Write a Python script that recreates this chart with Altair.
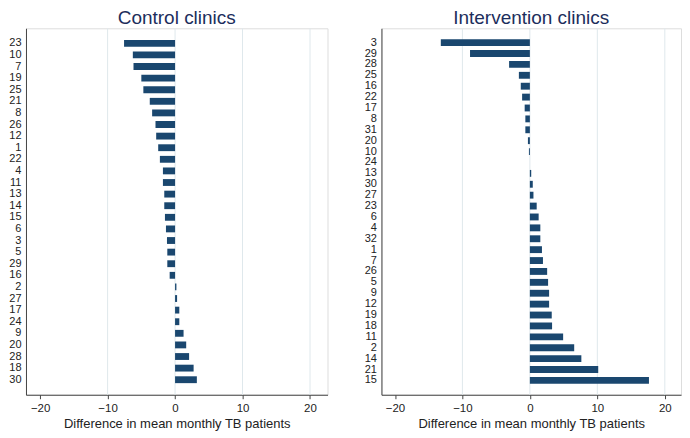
import altair as alt
import pandas as pd

# Control clinics (top to bottom)
control_clinics = ["23", "10", "7", "19", "25", "21", "8", "26", "12", "1",
                   "22", "4", "11", "13", "14", "15", "6", "3", "5", "29",
                   "16", "2", "27", "17", "24", "9", "20", "28", "18", "30"]
control_diff = [-7.56, -6.26, -6.16, -5.0, -4.7, -3.75, -3.4, -2.9, -2.8, -2.5,
                -2.25, -1.8, -1.8, -1.6, -1.6, -1.5, -1.35, -1.2, -1.15, -1.15,
                -0.8, 0.2, 0.3, 0.63, 0.63, 1.26, 1.65, 2.08, 2.75, 3.23]

# Intervention clinics (top to bottom)
intervention_clinics = ["3", "29", "28", "25", "16", "22", "17", "8", "31", "20",
                        "10", "24", "13", "30", "27", "23", "6", "4", "32", "1",
                        "7", "26", "5", "9", "12", "19", "18", "11", "2", "14",
                        "21", "15"]
intervention_diff = [-13.2, -8.87, -3.08, -1.63, -1.35, -1.15, -0.77, -0.67, -0.67, -0.29,
                     -0.14, 0.0, 0.2, 0.43, 0.53, 1.01, 1.3, 1.55, 1.55, 1.79,
                     1.94, 2.56, 2.7, 2.85, 2.85, 3.24, 3.29, 4.93, 6.57, 7.63,
                     10.13, 17.65]

x_ticks = [-20, -10, 0, 10, 20]
grid_values = [-10, 0, 10, 20]
x_title = "Difference in mean monthly TB patients"

FONT = "Liberation Sans"
BAR = "#1a476f"


def panel(clinics, values, title, domain, width, pad_inner, pad_outer):
    df = pd.DataFrame({"clinic": clinics, "diff": values})
    xscale = alt.Scale(domain=domain, nice=False, zero=False)
    xaxis = alt.Axis(
        values=x_ticks, title=x_title, format="d",
        labelFontSize=11.5, titleFontSize=13, titleFontWeight="normal",
        labelFont=FONT, titleFont=FONT, labelColor="#222", titleColor="#222",
        tickSize=4, tickColor="#444", domainColor="#444", labelPadding=4,
        titlePadding=3, grid=False,
    )
    grid = alt.Chart(pd.DataFrame({"g": grid_values})).mark_rule(
        color="#dfe8ec", strokeWidth=1
    ).encode(x=alt.X("g:Q", scale=xscale, axis=xaxis))
    bars = alt.Chart(df).mark_bar(color=BAR).encode(
        x=alt.X("diff:Q", scale=xscale, axis=xaxis),
        y=alt.Y(
            "clinic:N", sort=None,
            scale=alt.Scale(paddingInner=pad_inner, paddingOuter=pad_outer),
            axis=alt.Axis(title=None, ticks=False, grid=False, labelFontSize=11,
                          labelFont=FONT, labelColor="#222", labelPadding=5,
                          domainColor="#444"),
        ),
    )
    return alt.layer(grid, bars).properties(
        width=width, height=367,
        title=alt.Title(title, fontSize=19, font=FONT, fontWeight="normal",
                        color="#1c2e5c", anchor="middle", frame="group", offset=0),
    )


left = panel(control_clinics, control_diff, "Control clinics", [-22.1, 22.6], 302, 0.41, 1.0)
right = panel(intervention_clinics, intervention_diff, "Intervention clinics", [-22, 22.4], 300, 0.37, 1.0)

chart = alt.hconcat(left, right, spacing=35).configure_view(
    strokeWidth=0, stroke="transparent"
).configure(background="white", padding=0)

chart.save("out.html", embed_options={"renderer": "svg", "actions": False})
